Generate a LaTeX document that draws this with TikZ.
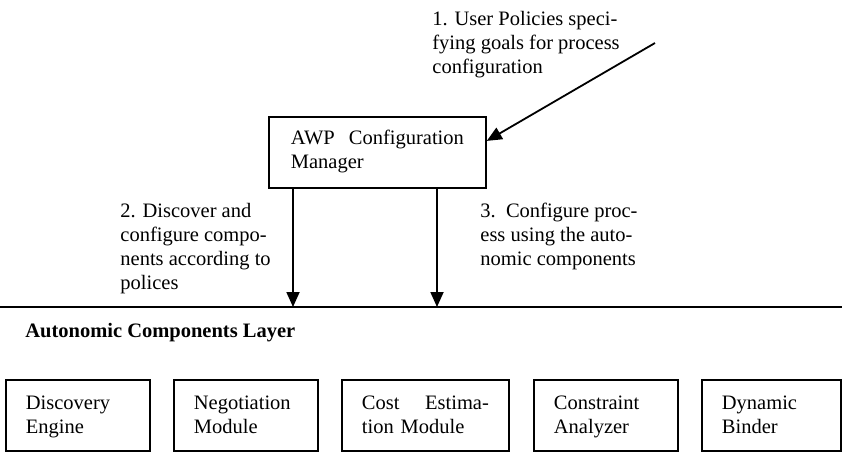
\documentclass[tikz,border=0pt]{standalone}
\usepackage{fontspec}
\setmainfont{Liberation Serif}
\usepackage{tikz}
\usetikzlibrary{arrows.meta}
\usetikzlibrary{positioning}

\begin{document}
\begin{tikzpicture}[x=0.5pt,y=-0.5pt,
        txt/.style={font=\fontsize{10.25}{12}\selectfont,inner sep=0pt,anchor=base west,align=left},
        box/.style={draw,line width=0.9pt,font=\fontsize{10.25}{12}\selectfont,inner xsep=10pt,inner ysep=0pt,align=left,
                    text height=9pt,text depth=14.5pt,minimum height=35.5pt,anchor=north west},
        arr/.style={line width=0.9pt,-{Triangle[length=7.5pt,width=6.5pt]}}]
        \useasboundingbox (0,0) rectangle (842,452);

        \node[box,inner xsep=11pt,text width=86.5pt,text height=7pt] (mgr) at (268,116) {AWP\hfill Configuration\\Manager};

        \node[txt] (policies) at (432,73) {1. User Policies speci-\\fying goals for process\\configuration};
        \node[txt] (discover) at (120,289) {2. Discover and\\configure compo-\\nents according to\\polices};
        \node[txt] (configure) at (480,265) {3.\ \ Configure proc-\\ess using the auto-\\nomic components};
        \node[txt,font=\fontsize{10.25}{12}\selectfont\bfseries] (layer) at (25,337) {Autonomic Components Layer};

        \coordinate (src) at (655,43);
        \coordinate (hl) at (0,307);
        \coordinate (hr) at (842,307);
        \coordinate (d1) at (293,307);
        \coordinate (d2) at (437,307);

        \draw[arr] (src) -- (mgr.6);
        \draw[line width=0.9pt] (hl) -- (hr);
        \draw[arr] (mgr.south -| d1) -- (d1);
        \draw[arr] (mgr.south -| d2) -- (d2);

        \node[box,text width=52pt] (discovery) at (5,379) {Discovery\\Engine};
        \node[box,text width=52pt] (negotiation) at (173,379) {Negotiation\\Module};
        \node[box,text width=63.5pt] (cost) at (341,379) {Cost\hfill Estima-\\tion Module};
        \node[box,text width=52pt] (constraint) at (533,379) {Constraint\\Analyzer};
        \node[box,text width=49.5pt] (binder) at (701,379) {Dynamic\\Binder};

    \end{tikzpicture}
\end{document}
